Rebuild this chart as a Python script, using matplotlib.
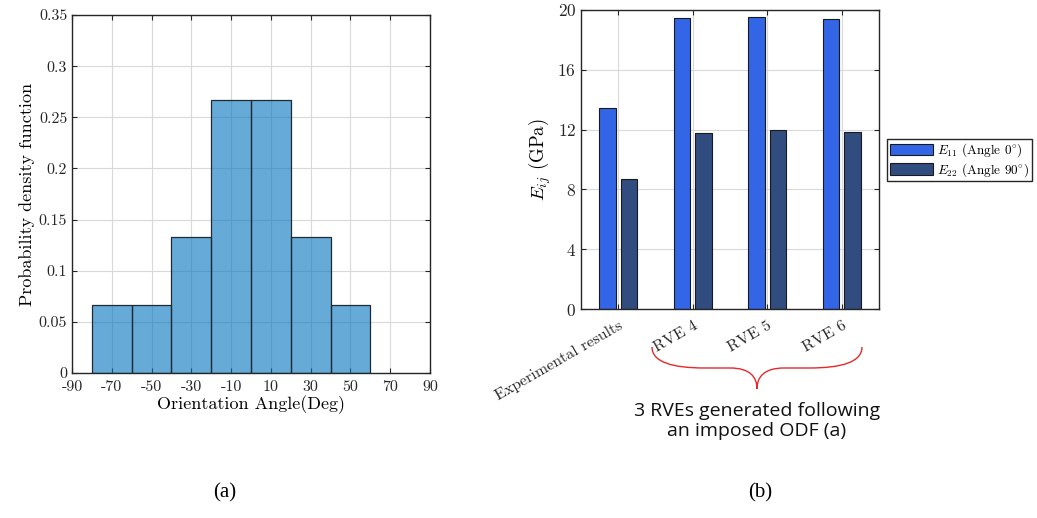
import matplotlib
matplotlib.use('Agg')
import matplotlib.pyplot as plt
import numpy as np
from matplotlib.path import Path
from matplotlib.patches import PathPatch

plt.rcParams['font.family'] = ['cmr10', 'DejaVu Serif']
plt.rcParams['mathtext.fontset'] = 'cm'
plt.rcParams['axes.formatter.use_mathtext'] = True

# (a) orientation histogram
bin_edges = [-80, -60, -40, -20, 0, 20, 40, 60]
pdf_values = [0.0667, 0.0667, 0.1333, 0.2667, 0.2667, 0.1333, 0.0667]
angle_ticks = [-90, -70, -50, -30, -10, 10, 30, 50, 70, 90]
pdf_ticks = [0, 0.05, 0.1, 0.15, 0.2, 0.25, 0.3, 0.35]
pdf_tick_labels = ['0', '0.05', '0.1', '0.15', '0.2', '0.25', '0.3', '0.35']

# (b) elastic moduli
groups = ['Experimental results', 'RVE 4', 'RVE 5', 'RVE 6']
E11 = [13.45, 19.46, 19.5, 19.37]
E22 = [8.7, 11.75, 11.97, 11.86]
e_ticks = [0, 4, 8, 12, 16, 20]

fig = plt.figure(figsize=(10.37, 5.18), dpi=100)
W, H = 1037, 518


def style_axes(ax, size):
    for s in ax.spines.values():
        s.set_color('#262626')
        s.set_linewidth(1.0)
    ax.tick_params(direction='in', top=True, right=True, length=3.5,
                   width=0.8, colors='#262626', labelsize=size)
    ax.grid(True, color='#d9d9d9', linewidth=0.8)
    ax.set_axisbelow(True)


ax1 = fig.add_axes([72 / W, 1 - 373 / H, 358 / W, 358 / H])
widths = np.diff(bin_edges)
ax1.bar(bin_edges[:-1], pdf_values, width=widths, align='edge',
        color='#0072BD', alpha=0.6, edgecolor='none', zorder=2)
ax1.bar(bin_edges[:-1], pdf_values, width=widths, align='edge',
        facecolor='none', edgecolor='#1f2a33', linewidth=0.9, zorder=3)
ax1.set_xlim(-90, 90)
ax1.set_ylim(0, 0.35)
ax1.set_xticks(angle_ticks)
ax1.set_xticklabels([str(t) for t in angle_ticks])
ax1.set_yticks(pdf_ticks)
ax1.set_yticklabels(pdf_tick_labels)
style_axes(ax1, 11.5)
ax1.tick_params(axis='x', pad=5)
ax1.set_xlabel('Orientation Angle(Deg)', fontsize=13, labelpad=1)
ax1.set_ylabel('Probability density function', fontsize=13, labelpad=3)

ax2 = fig.add_axes([581 / W, 1 - 309 / H, 298 / W, 299 / H])
x = np.arange(1, len(groups) + 1)
off, bw = 0.144, 0.22
ax2.bar(x - off, E11, width=bw, color='#3366e6', edgecolor='#1a1a1a',
        linewidth=0.8, label=r'$E_{11}$ (Angle 0$^{\circ}$)', zorder=2)
ax2.bar(x + off, E22, width=bw, color='#314c7e', edgecolor='#1a1a1a',
        linewidth=0.8, label=r'$E_{22}$ (Angle 90$^{\circ}$)', zorder=2)
ax2.set_xlim(0.5, 4.5)
ax2.set_ylim(0, 20)
ax2.set_yticks(e_ticks)
ax2.set_xticks(x)
ax2.set_xticklabels(groups, rotation=30, ha='right', va='top',
                    rotation_mode='anchor')
style_axes(ax2, 12.5)
ax2.tick_params(axis='x', pad=7, labelsize=11.5)
ax2.set_ylabel(r'$E_{ij}$ (GPa)', fontsize=13.5, labelpad=3)
ax2.legend(loc='upper left', bbox_to_anchor=(887 / W, 1 - 139 / H),
           bbox_transform=fig.transFigure, fontsize=9.5, fancybox=False,
           edgecolor='#262626', framealpha=1, handlelength=3.3,
           handleheight=1.0, borderpad=0.2, labelspacing=0.1,
           handletextpad=0.3, borderaxespad=0)

# red brace under the RVE labels
pts = [(652, 347), (652, 362), (672, 368), (705, 368),
       (730, 368),
       (750, 368), (757, 377), (757, 389),
       (757, 377), (764, 368), (784, 368),
       (809, 368),
       (842, 368), (862, 362), (862, 347)]
codes = [Path.MOVETO, Path.CURVE4, Path.CURVE4, Path.CURVE4,
         Path.LINETO,
         Path.CURVE4, Path.CURVE4, Path.CURVE4,
         Path.CURVE4, Path.CURVE4, Path.CURVE4,
         Path.LINETO,
         Path.CURVE4, Path.CURVE4, Path.CURVE4]
verts = [(px / W, 1 - py / H) for px, py in pts]
brace = PathPatch(Path(verts, codes), facecolor='none', edgecolor='#e8282b',
                  linewidth=1.0, transform=fig.transFigure)
fig.patches.append(brace)

fig.text(757 / W, 1 - 421 / H, '3 RVEs generated following\nan imposed ODF (a)',
         ha='center', va='center', fontsize=14, family='Open Sans',
         linespacing=1.2, color='#111111')
fig.text(225 / W, 1 - 493 / H, '(a)', ha='center', va='center', fontsize=15,
         family='Liberation Serif')
fig.text(760 / W, 1 - 493 / H, '(b)', ha='center', va='center', fontsize=15,
         family='Liberation Serif')

fig.savefig('out.png', dpi=100)
